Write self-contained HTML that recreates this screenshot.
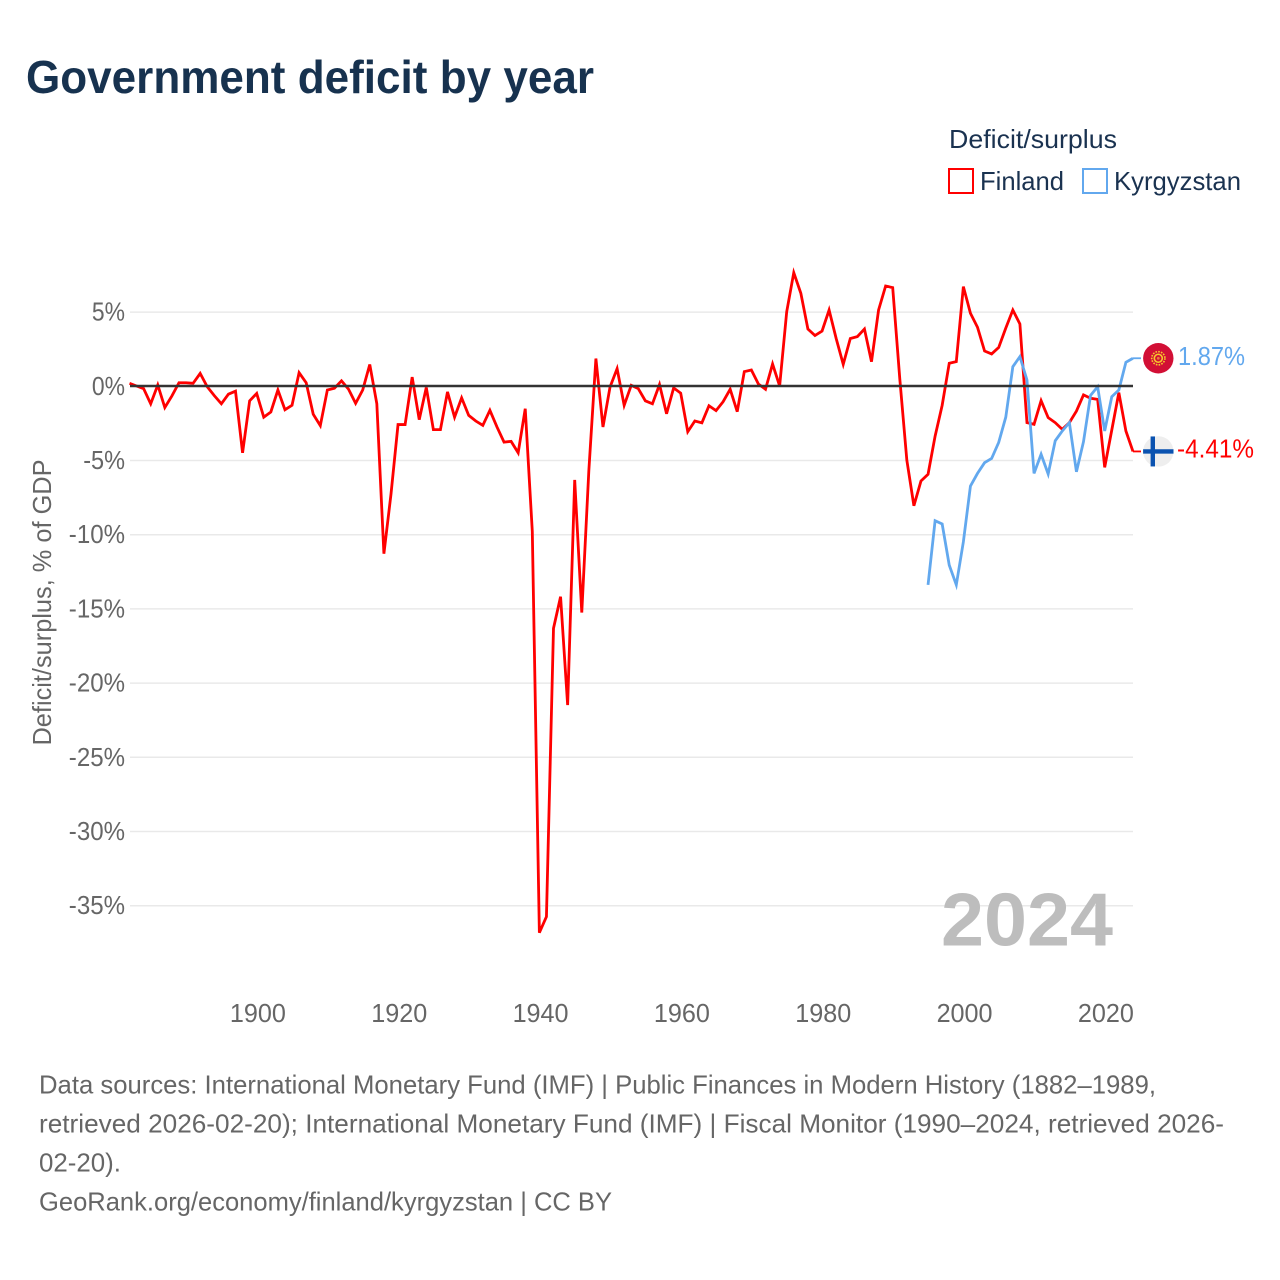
<!DOCTYPE html>
<html lang="en">
<head>
<meta charset="utf-8">
<title>Government deficit by year</title>
<style>
html,body{margin:0;padding:0;background:#fff;}
svg{display:block;font-family:"Liberation Sans",sans-serif;}
</style>
</head>
<body>
<svg id="chart" width="1280" height="1280" viewBox="0 0 1280 1280" xmlns="http://www.w3.org/2000/svg">
  <rect x="0" y="0" width="1280" height="1280" fill="#ffffff"/>
  <text x="26" y="93" font-size="46" font-weight="700" fill="#17324f" textLength="568" lengthAdjust="spacingAndGlyphs">Government deficit by year</text>

  <text x="949" y="148" font-size="26" fill="#1a3250" textLength="168" lengthAdjust="spacingAndGlyphs">Deficit/surplus</text>
  <rect x="949" y="169" width="24" height="24" fill="#ffffff" stroke="#ff0000" stroke-width="2"/>
  <text x="980" y="190" font-size="26" fill="#1a3250" textLength="84" lengthAdjust="spacingAndGlyphs">Finland</text>
  <rect x="1083" y="169" width="24" height="24" fill="#ffffff" stroke="#62a8ee" stroke-width="2"/>
  <text x="1114" y="190" font-size="26" fill="#1a3250" textLength="127" lengthAdjust="spacingAndGlyphs">Kyrgyzstan</text>

  <g id="grid"></g>
  <g id="yticks"></g>
  <g id="xticks"></g>
  <text transform="translate(51,602.5) rotate(-90)" text-anchor="middle" font-size="26" fill="#666666" textLength="286" lengthAdjust="spacingAndGlyphs">Deficit/surplus, % of GDP</text>

  <text x="941" y="945.5" font-size="75" font-weight="700" fill="#bdbdbd" textLength="172" lengthAdjust="spacingAndGlyphs">2024</text>

  <g id="series"></g>
  <line id="zero" stroke="#333333" stroke-width="2.6"/>
  <g id="ends"></g>

  <g font-size="26" fill="#666666">
    <text x="39" y="1093.5" textLength="1117" lengthAdjust="spacingAndGlyphs">Data sources: International Monetary Fund (IMF) | Public Finances in Modern History (1882–1989,</text>
    <text x="39" y="1132.5" textLength="1185" lengthAdjust="spacingAndGlyphs">retrieved 2026-02-20); International Monetary Fund (IMF) | Fiscal Monitor (1990–2024, retrieved 2026-</text>
    <text x="39" y="1171.5" textLength="82" lengthAdjust="spacingAndGlyphs">02-20).</text>
    <text x="39" y="1210.5" textLength="573" lengthAdjust="spacingAndGlyphs">GeoRank.org/economy/finland/kyrgyzstan | CC BY</text>
  </g>
</svg>
<script>
const firstYearFinland = 1882;
const firstYearKyrgyzstan = 1995;
const finlandValues = [0.18,0,-0.18,-1.2,0.07,-1.45,-0.67,0.22,0.22,0.18,0.85,-0.05,-0.65,-1.2,-0.55,-0.35,-4.5,-1.0,-0.5,-2.1,-1.75,-0.27,-1.6,-1.3,0.9,0.22,-1.9,-2.67,-0.27,-0.15,0.35,-0.22,-1.17,-0.27,1.45,-1.2,-11.3,-7.3,-2.6,-2.6,0.6,-2.27,-0.1,-2.94,-2.94,-0.4,-2.1,-0.8,-1.98,-2.36,-2.65,-1.64,-2.76,-3.78,-3.73,-4.5,-1.53,-9.8,-36.84,-35.76,-16.33,-14.2,-21.5,-6.33,-15.27,-5.7,1.85,-2.76,-0.07,1.17,-1.3,0.05,-0.18,-1.0,-1.2,0.1,-1.87,-0.13,-0.48,-3.08,-2.36,-2.48,-1.33,-1.66,-1.06,-0.22,-1.73,0.97,1.08,0.13,-0.22,1.48,0,5.0,7.64,6.25,3.84,3.4,3.7,5.12,3.2,1.46,3.2,3.33,3.84,1.64,5.12,6.74,6.63,0.5,-5,-8.07,-6.4,-5.95,-3.38,-1.3,1.53,1.64,6.7,4.9,3.96,2.36,2.16,2.6,3.9,5.12,4.18,-2.47,-2.58,-0.99,-2.13,-2.47,-2.92,-2.47,-1.69,-0.6,-0.83,-0.9,-5.48,-2.97,-0.45,-3.03,-4.41];
const kyrgyzstanValues = [-13.4,-9.08,-9.3,-12.07,-13.4,-10.5,-6.74,-5.89,-5.17,-4.88,-3.8,-2.1,1.3,1.98,0.4,-5.89,-4.6,-5.93,-3.69,-3.03,-2.47,-5.78,-3.75,-0.63,-0.05,-3.03,-0.72,-0.27,1.6,1.87];
const yTickValues = [5,0,-5,-10,-15,-20,-25,-30,-35];
const xTickYears = [1900,1920,1940,1960,1980,2000,2020];
const finlandEndLabel = "-4.41%";
const kyrgyzstanEndLabel = "1.87%";

const NS = "http://www.w3.org/2000/svg";
const plotLeft = 130, plotRight = 1133;
function xScale(year){ return 129.5 + (year - 1882) * 7.0667; }
function yScale(v){ return 386 - v * 14.84; }
function make(tag, attrs, parent){
  const el = document.createElementNS(NS, tag);
  for (const k in attrs) el.setAttribute(k, attrs[k]);
  parent.appendChild(el);
  return el;
}
const grid = document.getElementById("grid");
const yticks = document.getElementById("yticks");
const xticks = document.getElementById("xticks");
const series = document.getElementById("series");
const ends = document.getElementById("ends");

yTickValues.forEach(function(v){
  if (v !== 0) {
    const gl = make("line", {x1:plotLeft, x2:plotRight, y1:yScale(v)+0.3, y2:yScale(v)+0.3, stroke:"#e9e9e9", "stroke-width":1.5}, grid);
    
    
  }
  const t = make("text", {x:125, y:yScale(v)+8.8, "text-anchor":"end", "font-size":26, fill:"#666666", lengthAdjust:"spacingAndGlyphs"}, yticks);
  t.textContent = v + "%";
  
  
  t.setAttribute("textLength", (t.getComputedTextLength() - 4.5).toFixed(1));
});
xTickYears.forEach(function(yr){
  const t = make("text", {x:xScale(yr)+1.2, y:1022, "text-anchor":"middle", "font-size":26, fill:"#666666", textLength:56, lengthAdjust:"spacingAndGlyphs"}, xticks);
  t.textContent = yr;
  
  
});
function pathFor(values, first){
  return values.map(function(v, i){
    return (i ? "L" : "M") + xScale(first + i).toFixed(2) + " " + yScale(v).toFixed(2);
  }).join(" ");
}
const finlandLine = make("path", {d:pathFor(finlandValues, firstYearFinland), fill:"none", stroke:"#ff0000", "stroke-width":2.8, "stroke-linejoin":"miter"}, series);


const kyrgyzLine = make("path", {d:pathFor(kyrgyzstanValues, firstYearKyrgyzstan), fill:"none", stroke:"#62a8ee", "stroke-width":2.8, "stroke-linejoin":"miter"}, series);



const zero = document.getElementById("zero");
zero.setAttribute("x1", plotLeft);
zero.setAttribute("x2", plotRight);
zero.setAttribute("y1", yScale(0));
zero.setAttribute("y2", yScale(0));

const fy = yScale(finlandValues[finlandValues.length - 1]);
const ky = yScale(kyrgyzstanValues[kyrgyzstanValues.length - 1]);
const lastX = xScale(2024);

const fc = make("line", {x1:lastX, x2:1141, y1:fy, y2:fy, stroke:"#ff0000", "stroke-width":1.8}, ends);


const kc = make("line", {x1:lastX, x2:1141, y1:ky, y2:ky, stroke:"#62a8ee", "stroke-width":1.8}, ends);



const kFlag = make("g", {transform:"translate(1158.3," + ky + ")"}, ends);


make("circle", {r:15.2, fill:"#d20f35"}, kFlag);
make("circle", {r:6.6, fill:"none", stroke:"#f6c92c", "stroke-width":1.6, "stroke-dasharray":"1.6 1.2"}, kFlag);
make("circle", {r:4, fill:"#d20f35", stroke:"#f6c92c", "stroke-width":1.6}, kFlag);
make("circle", {r:1.4, fill:"#e8803a"}, kFlag);

const fFlag = make("g", {transform:"translate(1158.3," + fy + ")"}, ends);


make("circle", {r:15.2, fill:"#eeeeee"}, fFlag);
make("rect", {x:-7.7, y:-15, width:4.4, height:30, fill:"#0a52b0"}, fFlag);
make("rect", {x:-15.2, y:-2.2, width:30.4, height:4.4, fill:"#0a52b0"}, fFlag);

const kl = make("text", {x:1178, y:ky+6.6, "font-size":26, fill:"#62a8ee", textLength:67, lengthAdjust:"spacingAndGlyphs"}, ends);
kl.textContent = kyrgyzstanEndLabel;


const fl = make("text", {x:1177, y:fy+6, "font-size":26, fill:"#ff0000", textLength:77, lengthAdjust:"spacingAndGlyphs"}, ends);
fl.textContent = finlandEndLabel;


</script>
</body>
</html>
